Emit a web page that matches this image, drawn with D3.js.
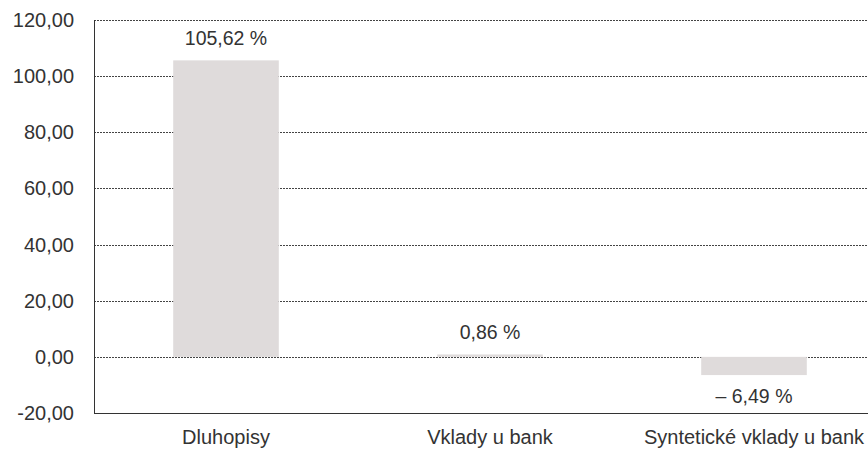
<!DOCTYPE html>
<html>
  <head>
    <meta charset="utf-8">
    <script src="https://d3js.org/d3.v7.min.js"></script>
    <style type="text/css">
body {
  margin: 0;
  background: #fff;
}
text {
  font-family: 'Liberation Sans', Arial, sans-serif;
  font-size: 20px;
  fill: #333;
}
    </style>
  </head>
  <body>
<svg></svg>
<script type="text/javascript">
const categories = ["Dluhopisy", "Vklady u bank", "Syntetické vklady u bank"];
const values = [105.62, 0.86, -6.49];
const valueLabels = ["105,62 %", "0,86 %", "\u2013 6,49 %"];
const yTicks = [-20, 0, 20, 40, 60, 80, 100, 120];

const width = 868, height = 449;
const plotLeft = 94, plotTop = 20, plotBottom = 413;
const step = 264;

const svg = d3.select("svg").attr("width", width).attr("height", height);

const x = d3.scaleBand()
  .domain(categories)
  .range([plotLeft, plotLeft + step * categories.length])
  .paddingInner(0.6)
  .paddingOuter(0.3);

const y = d3.scaleLinear().domain([-20, 120]).range([plotBottom, plotTop]);

const fmt = v => d3.format(".2f")(v).replace(".", ",").replace("\u2212", "-");

// gridlines
svg.append("g").selectAll("line")
  .data(yTicks.filter(t => t > -20))
  .enter().append("line")
    .attr("x1", plotLeft).attr("x2", width)
    .attr("y1", d => Math.round(y(d)) + 0.5).attr("y2", d => Math.round(y(d)) + 0.5)
    .attr("stroke", "#444")
    .attr("stroke-width", 1)
    .attr("stroke-dasharray", "2,1");

// bars
svg.append("g").selectAll("rect")
  .data(values)
  .enter().append("rect")
    .attr("x", (d, i) => x(categories[i]))
    .attr("width", x.bandwidth())
    .attr("y", d => y(Math.max(0, d)))
    .attr("height", d => Math.abs(y(d) - y(0)))
    .attr("fill", "#dfdbdb");

// axes
svg.append("line")
  .attr("x1", plotLeft + 0.5).attr("x2", plotLeft + 0.5)
  .attr("y1", plotTop).attr("y2", plotBottom)
  .attr("stroke", "#333");
svg.append("line")
  .attr("x1", plotLeft).attr("x2", width)
  .attr("y1", plotBottom + 0.5).attr("y2", plotBottom + 0.5)
  .attr("stroke", "#333");

// y tick labels
svg.append("g").selectAll("text")
  .data(yTicks)
  .enter().append("text")
    .attr("x", plotLeft - 20)
    .attr("y", d => y(d))
    .attr("dy", "0.35em")
    .attr("text-anchor", "end")
    .text(fmt);

// value labels
svg.append("g").selectAll("text")
  .data(values)
  .enter().append("text")
    .attr("x", (d, i) => x(categories[i]) + x.bandwidth() / 2)
    .attr("y", d => d >= 0 ? y(d) - 22 : y(d) + 21)
    .attr("dy", "0.35em")
    .attr("text-anchor", "middle")
    .style("font-size", "19.5px")
    .text((d, i) => valueLabels[i]);

// category labels
svg.append("g").selectAll("text")
  .data(categories)
  .enter().append("text")
    .attr("x", d => x(d) + x.bandwidth() / 2)
    .attr("y", 444)
    .attr("text-anchor", "middle")
    .text(d => d);
</script>
  </body>
</html>
